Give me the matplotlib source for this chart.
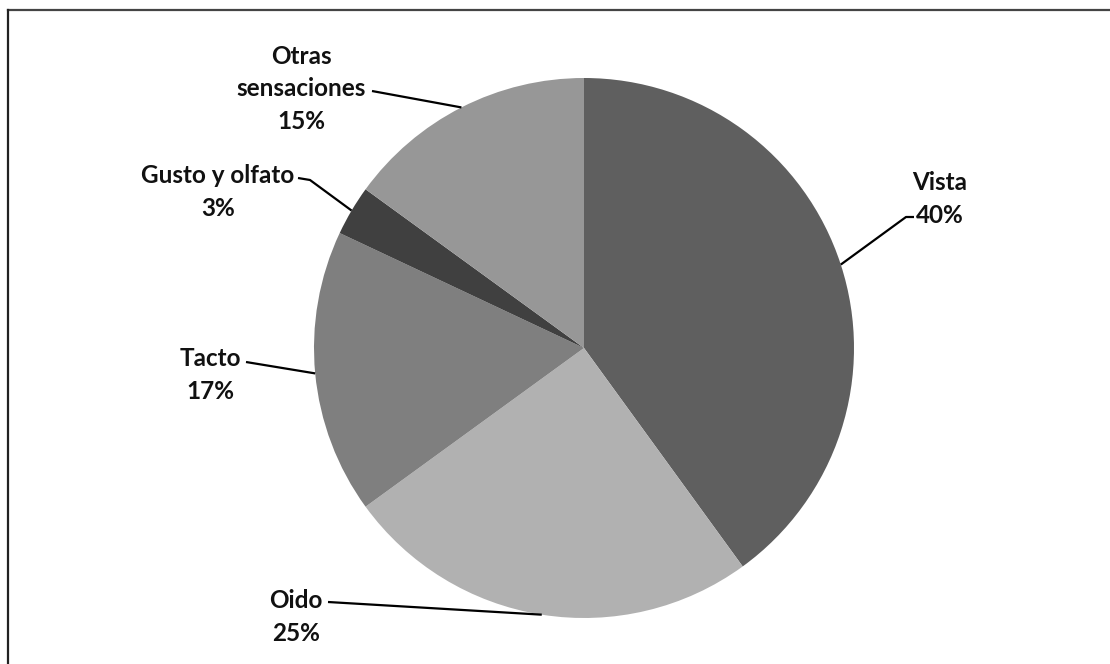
import numpy as np
import matplotlib.pyplot as plt
from matplotlib.lines import Line2D

plt.rcParams['font.family'] = ['Lato', 'DejaVu Sans']

# datos
labels = ['Vista', 'Oido', 'Tacto', 'Gusto y olfato', 'Otras\nsensaciones']
values = [40, 25, 17, 3, 15]
colors = ['#5f5f5f', '#b1b1b1', '#7f7f7f', '#404040', '#979797']

# posición de cada etiqueta (px) y punto donde arranca la línea guía
label_pos = [(940, 199), (296, 617), (210, 375), (218, 192), (301, 89)]
line_start = [(914, 217), (328, 602), (246, 362), (298, 178), (372, 91)]
line_elbow = [(906, 217), None, None, (310, 180), None]

W, H = 1110, 664
fig = plt.figure(figsize=(W / 100, H / 100), dpi=100)
ax = fig.add_axes([0, 0, 1, 1])

cx, cy, r = 584, H - 348, 270
wedges, _ = ax.pie(values, colors=colors, startangle=90, counterclock=False,
                   center=(cx, cy), radius=r, frame=True,
                   wedgeprops=dict(linewidth=0))
ax.set_xlim(0, W)
ax.set_ylim(0, H)
ax.set_aspect('equal')
ax.axis('off')

for w, lab, v, pos, st, el in zip(wedges, labels, values, label_pos,
                                  line_start, line_elbow):
    ang = np.deg2rad((w.theta1 + w.theta2) / 2)
    ex, ey = cx + r * np.cos(ang), cy + r * np.sin(ang)
    pts = [st] + ([el] if el else [])
    xs = [p[0] for p in pts] + [ex]
    ys = [H - p[1] for p in pts] + [ey]
    ax.plot(xs, ys, color='black', lw=1.6, solid_capstyle='butt')
    ax.text(pos[0], H - pos[1], f'{lab}\n{v}%', ha='center', va='center',
            fontsize=17.5, fontweight='bold', linespacing=1.5, color='#111111')

# marco (sólo bordes superior e izquierdo visibles)
fig.add_artist(Line2D([8 / W, 1], [1 - 10 / H, 1 - 10 / H], color='#444444', lw=1.6))
fig.add_artist(Line2D([8 / W, 8 / W], [0, 1 - 10 / H], color='#222222', lw=1.6))

plt.savefig('out.png', dpi=100)
